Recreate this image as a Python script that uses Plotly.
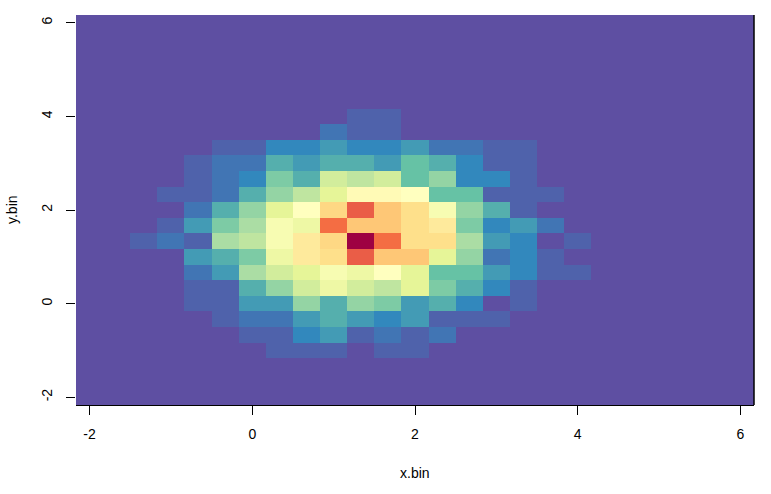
import plotly.graph_objects as go

x_bin = [-2 + k / 3 for k in range(25)]
y_bin = [-2 + k / 3 for k in range(25)]
tick_vals = [-2, 0, 2, 4, 6]
tick_text = ["-2", "0", "2", "4", "6"]

palette = ["#5E4FA2", "#3288BD", "#66C2A5", "#ABDDA4", "#E6F598", "#FFFFBF",
           "#FEE08B", "#FDAE61", "#F46D43", "#D53E4F", "#9E0142"]

# counts, first row is the top of the picture (y = 6), last row the bottom (y = -2)
rows_top_down = [
    [0]*25, [0]*25, [0]*25, [0]*25, [0]*25, [0]*25,
    [0,0,0,0,0,0,0,0,0,0,1,1,0,0,0,0,0,0,0,0,0,0,0,0,0],
    [0,0,0,0,0,0,0,0,0,2,1,1,0,0,0,0,0,0,0,0,0,0,0,0,0],
    [0,0,0,0,0,1,1,3,3,4,3,3,4,2,2,1,1,0,0,0,0,0,0,0,0],
    [0,0,0,0,1,2,2,5,4,5,5,4,6,5,3,1,1,0,0,0,0,0,0,0,0],
    [0,0,0,0,1,2,3,7,5,11,10,11,6,8,3,3,1,0,0,0,0,0,0,0,0],
    [0,0,0,1,1,2,5,8,10,12,15.5,15.5,15,6,6,1,1,1,0,0,0,0,0,0,0],
    [0,0,0,0,2,5,8,12,15,18.5,25,19.5,18,14,8,5,1,0,0,0,0,0,0,0,0],
    [0,0,0,1,4,7,9,14,13,24,19.5,19.5,18,17,7,3,4,2,0,0,0,0,0,0,0],
    [0,0,1,2,1,9,10,14,17,18.5,30,24,18,18,9,4,3,0,1,0,0,0,0,0,0],
    [0,0,0,0,4,5,7,13,17,18,25,19.5,19.5,12,8,2,3,1,0,0,0,0,0,0,0],
    [0,0,0,0,2,4,9,11,12,14,13,15,12,6,6,4,3,1,1,0,0,0,0,0,0],
    [0,0,0,0,1,1,5,8,11,13,11,10,12,7,5,3,1,0,0,0,0,0,0,0,0],
    [0,0,0,0,1,1,4,4,8,5,8,7,4,5,3,0,1,0,0,0,0,0,0,0,0],
    [0,0,0,0,0,1,2,2,4,5,4,3,4,1,1,1,0,0,0,0,0,0,0,0,0],
    [0,0,0,0,0,0,1,1,3,4,1,2,1,2,0,0,0,0,0,0,0,0,0,0,0],
    [0,0,0,0,0,0,0,1,1,1,0,1,1,0,0,0,0,0,0,0,0,0,0,0,0],
    [0]*25, [0]*25, [0]*25,
]
freq = rows_top_down[::-1]

colorscale = [[i / (len(palette) - 1), c] for i, c in enumerate(palette)]

fig = go.Figure(go.Heatmap(
    x=x_bin, y=y_bin, z=freq,
    colorscale=colorscale, zmin=0, zmax=30,
    showscale=False, zsmooth=False,
))

font = dict(family="Liberation Sans, Arial, sans-serif", size=14, color="#000000")
axis_common = dict(
    range=[-2 - 1/6, 6 + 1/6], tickmode="array", tickvals=tick_vals, ticktext=tick_text,
    ticks="outside", ticklen=9, tickwidth=1, tickcolor="#000000",
    showgrid=False, zeroline=False, tickfont=font, automargin=False,
)
fig.update_layout(
    width=771, height=494,
    margin=dict(l=76, r=17, t=15, b=89, pad=0),
    paper_bgcolor="#FFFFFF", plot_bgcolor="#FFFFFF",
    xaxis=dict(**axis_common, ticklabelstandoff=7,
               showline=True, linecolor="#000000", linewidth=1),
    yaxis=dict(**axis_common, tickangle=-90, ticklabelstandoff=8, showline=False),
    font=font,
    shapes=[dict(type="line", xref="paper", yref="paper", x0=1, x1=1, y0=0, y1=1,
                 line=dict(color="#000000", width=1.5), layer="above")],
    annotations=[
        dict(text="x.bin", xref="paper", yref="paper", x=0.5, y=0,
             xanchor="center", yanchor="middle", yshift=-68, showarrow=False, font=font),
        dict(text="y.bin", xref="paper", yref="paper", x=0, y=0.5, textangle=-90,
             xanchor="center", yanchor="middle", xshift=-64, showarrow=False, font=font),
    ],
)
fig.write_html("out.html", post_script="document.body.style.margin='0';",
               config={"displayModeBar": False})
